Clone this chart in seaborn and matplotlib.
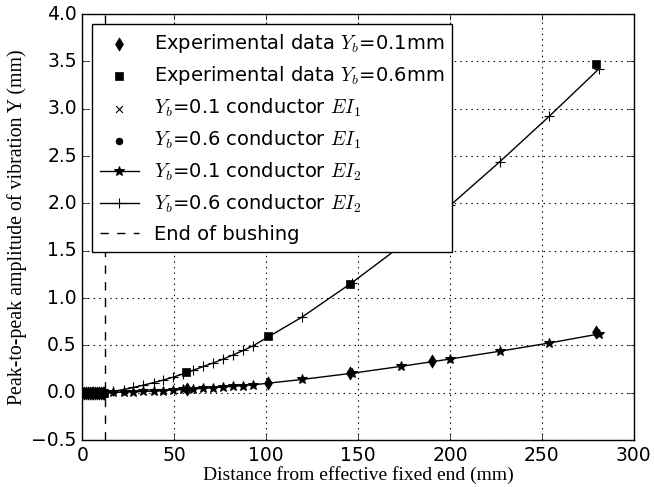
import numpy as np
import pandas as pd
import matplotlib
matplotlib.use('Agg')
import matplotlib.pyplot as plt
import seaborn as sns

# Experimental data (mm)
exp01_x = [0, 1, 2, 3, 4, 5, 6, 7, 8, 9, 10, 11, 12, 57, 101, 145.5, 190, 279.5]
exp01_y = [0, 0, 0, 0, 0, 0, 0, 0, 0, 0, 0, 0, 0, 0.04, 0.10, 0.205, 0.335, 0.637]
exp06_x = [0, 1, 2, 3, 4, 5, 6, 7, 8, 9, 10, 11, 12, 56.5, 101, 145.5, 279.5]
exp06_y = [0, 0, 0, 0, 0, 0, 0, 0, 0, 0, 0, 0, 0, 0.214, 0.60, 1.15, 3.47]

# Model EI1 (inside bushing)
ei1_x = [0, 1, 2, 3, 4, 5, 6, 7, 8, 9, 10, 11, 12]
ei1_01_y = [0, 0, 0, 0, 0, 0, 0, 0, 0, 0, 0, 0, 0]
ei1_06_y = [0, 0, 0, 0, 0, 0, 0, 0, 0, 0, 0, 0, 0]

# Model EI2
ei2_x = [11.5, 16.9, 22.4, 27.8, 33.2, 38.7, 44.1, 49.5, 55.0, 60.4, 65.8,
         71.3, 76.7, 82.1, 87.6, 93.0, 119.6, 146.5, 173.3, 200.2, 227.1,
         254.0, 281.0]
ei2_01_y = [0.000, 0.003, 0.006, 0.009, 0.013, 0.017, 0.022, 0.028, 0.034,
            0.040, 0.046, 0.053, 0.060, 0.067, 0.075, 0.083, 0.140, 0.205,
            0.278, 0.356, 0.438, 0.525, 0.620]
ei2_06_y = [0.000, 0.015, 0.033, 0.055, 0.080, 0.106, 0.134, 0.165, 0.200,
            0.238, 0.277, 0.315, 0.356, 0.400, 0.447, 0.497, 0.800, 1.16,
            1.55, 1.98, 2.44, 2.92, 3.42]

bushing_end = 12.3

plt.style.use('classic')
plt.rcParams['mathtext.fontset'] = 'cm'

fig = plt.figure(figsize=(6.54, 4.87), dpi=100, facecolor='white')
ax = fig.add_axes([0.126, 0.0965, 0.843, 0.8745])

sns.scatterplot(x=exp01_x, y=exp01_y, marker='d', s=45, color='k', edgecolor='k',
                linewidth=0.5, label=r'Experimental data $Y_b$=0.1mm', ax=ax, zorder=4)
sns.scatterplot(x=exp06_x, y=exp06_y, marker='s', s=40, color='k', edgecolor='k',
                linewidth=0.5, label=r'Experimental data $Y_b$=0.6mm', ax=ax, zorder=4)
sns.scatterplot(x=ei1_x, y=ei1_01_y, marker='x', s=25, color='k', linewidth=0.8,
                label=r'$Y_b$=0.1 conductor $EI_1$', ax=ax, zorder=3)
sns.scatterplot(x=ei1_x, y=ei1_06_y, marker='o', s=25, color='k', edgecolor='k',
                label=r'$Y_b$=0.6 conductor $EI_1$', ax=ax, zorder=3)
sns.lineplot(x=ei2_x, y=ei2_01_y, marker='*', markersize=7.5, color='k', linewidth=1,
             markeredgecolor='k', sort=False, estimator=None,
             label=r'$Y_b$=0.1 conductor $EI_2$', ax=ax)
sns.lineplot(x=ei2_x, y=ei2_06_y, marker='+', markersize=7, color='k', linewidth=1,
             markeredgecolor='k', markeredgewidth=0.8, sort=False, estimator=None,
             label=r'$Y_b$=0.6 conductor $EI_2$', ax=ax)
ax.axvline(bushing_end, color='k', linestyle='--', linewidth=1, label='End of bushing')

ax.set_xlim(0, 300)
ax.set_ylim(-0.5, 4.0)
ax.set_xticks(np.arange(0, 301, 50))
ax.set_yticks(np.arange(-0.5, 4.01, 0.5))
ax.tick_params(labelsize=13.5, direction='in', top=True, right=True)
ax.grid(True, color='k', linestyle=':', linewidth=0.8)

ax.set_xlabel('Distance from effective fixed end (mm)', family='Liberation Serif',
              fontsize=14, labelpad=1)
ax.set_ylabel('Peak-to-peak amplitude of vibration Y (mm)', family='Liberation Serif',
              fontsize=14.3, labelpad=3)

leg = ax.legend(loc='upper left', numpoints=1, scatterpoints=1, fontsize=14,
                fancybox=False, frameon=True)
leg.get_frame().set_edgecolor('k')

fig.savefig('out.png', dpi=100, facecolor='white')
